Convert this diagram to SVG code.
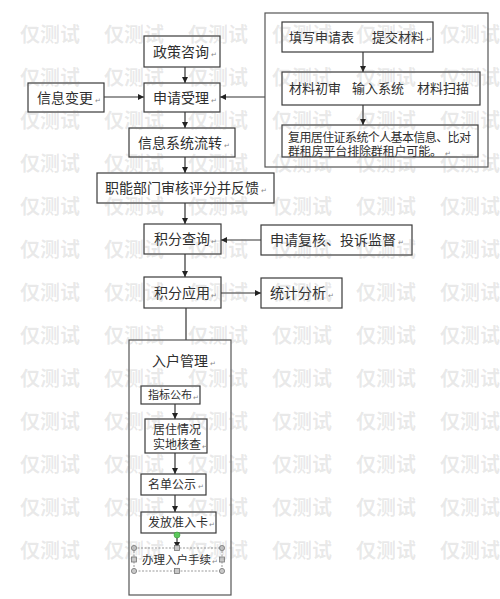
<svg xmlns="http://www.w3.org/2000/svg" width="500" height="599" viewBox="0 0 500 599">
<defs>
<style>
.box{fill:#fff;stroke:#3a3a3a;stroke-width:1.2}
.frame{fill:none;stroke:#555;stroke-width:1.2}
.t{font-family:"Noto Sans CJK SC","Noto Sans",sans-serif;fill:#2e2e2e}
.t14{font-size:14px}
.t13{font-size:13px}
.t12{font-size:12px}
.t11{font-size:11px}
.pm{font-family:"DejaVu Sans",sans-serif;font-size:7px;fill:#888}
.ln{fill:none;stroke:#333;stroke-width:1.2}
.wm{font-family:"Noto Sans CJK SC",sans-serif;font-size:20px;font-weight:bold;fill:#777;fill-opacity:0.16}
.hd{fill:#c8c8c8;stroke:#777;stroke-width:0.8}
</style>
<marker id="ah" viewBox="0 0 10 10" refX="10" refY="5" markerWidth="6" markerHeight="6" orient="auto" markerUnits="userSpaceOnUse">
<path d="M0,0 L10,5 L0,10 z" fill="#222"/>
</marker>
</defs>
<rect width="500" height="599" fill="#fff"/>

<g id="connectors">
<line class="ln" x1="185" y1="67" x2="185" y2="83" marker-end="url(#ah)"/>
<line class="ln" x1="104" y1="97" x2="144" y2="97" marker-end="url(#ah)"/>
<line class="ln" x1="265" y1="97" x2="220" y2="97" marker-end="url(#ah)"/>
<line class="ln" x1="185" y1="112" x2="185" y2="128" marker-end="url(#ah)"/>
<line class="ln" x1="185" y1="157" x2="185" y2="173" marker-end="url(#ah)"/>
<line class="ln" x1="185" y1="203" x2="185" y2="224" marker-end="url(#ah)"/>
<line class="ln" x1="261" y1="240" x2="221" y2="240" marker-end="url(#ah)"/>
<line class="ln" x1="185" y1="254" x2="185" y2="277" marker-end="url(#ah)"/>
<line class="ln" x1="221" y1="293" x2="261" y2="293" marker-end="url(#ah)"/>
<line class="ln" x1="186" y1="308" x2="186" y2="340"/>
<line class="ln" x1="363" y1="52" x2="363" y2="72" marker-end="url(#ah)"/>
<line class="ln" x1="363" y1="105" x2="363" y2="125" marker-end="url(#ah)"/>
<line class="ln" x1="175" y1="404" x2="175" y2="419" marker-end="url(#ah)"/>
<line class="ln" x1="175" y1="453" x2="175" y2="474" marker-end="url(#ah)"/>
<line class="ln" x1="175" y1="495" x2="175" y2="512" marker-end="url(#ah)"/>
<line class="ln" x1="177" y1="535" x2="177" y2="548" marker-end="url(#ah)"/>
</g>

<g id="n-zhengce">
<rect class="box" x="144" y="36" width="76" height="31"/>
<text class="t t14" x="153" y="56.5">政策咨询</text><text class="pm" x="211" y="57">↵</text>
</g>
<g id="n-xinxibiangeng">
<rect class="box" x="28" y="83" width="76" height="29"/>
<text class="t t14" x="37" y="102.5">信息变更</text><text class="pm" x="95" y="103">↵</text>
</g>
<g id="n-shenqing">
<rect class="box" x="144" y="83" width="76" height="29"/>
<text class="t t14" x="153" y="102.5">申请受理</text><text class="pm" x="211" y="103">↵</text>
</g>
<g id="n-xitong">
<rect class="box" x="129" y="128" width="106" height="29"/>
<text class="t t14" x="138" y="147.5">信息系统流转</text><text class="pm" x="224" y="148">↵</text>
</g>
<g id="n-zhineng">
<rect class="box" x="97" y="173" width="177" height="30"/>
<text class="t t14" x="105" y="193">职能部门审核评分并反馈</text><text class="pm" x="261" y="193">↵</text>
</g>
<g id="n-chaxun">
<rect class="box" x="144" y="224" width="77" height="30"/>
<text class="t t14" x="154" y="244">积分查询</text><text class="pm" x="211" y="244">↵</text>
</g>
<g id="n-fuhe">
<rect class="box" x="261" y="225" width="151" height="30"/>
<text class="t t14" x="270" y="245">申请复核、投诉监督</text><text class="pm" x="398" y="245">↵</text>
</g>
<g id="n-yingyong">
<rect class="box" x="144" y="277" width="77" height="31"/>
<text class="t t14" x="154" y="297.5">积分应用</text><text class="pm" x="211" y="298">↵</text>
</g>
<g id="n-tongji">
<rect class="box" x="261" y="278" width="81" height="30"/>
<text class="t t14" x="270" y="298">统计分析</text><text class="pm" x="328" y="298">↵</text>
</g>

<g id="n-right-group">
<rect class="frame" x="265" y="13" width="223" height="154"/>
<g id="n-tianxie">
<rect class="box" x="282" y="22" width="151" height="30"/>
<text class="t t13" x="289" y="41.5">填写申请表</text><text class="t t13" x="372" y="41.5">提交材料</text><text class="pm" x="426" y="42">↵</text>
</g>
<g id="n-chushen">
<rect class="box" x="282" y="72" width="198" height="33"/>
<text class="t t13" x="289" y="93">材料初审</text><text class="t t13" x="352" y="93">输入系统</text><text class="t t13" x="417" y="93">材料扫描</text>
</g>
<g id="n-fuyong">
<rect class="box" x="282" y="125" width="196" height="32"/>
<text class="t t12" x="288" y="141.5" textLength="183" lengthAdjust="spacing">复用居住证系统个人基本信息、比对</text>
<text class="t t12" x="288" y="156" textLength="154" lengthAdjust="spacing">群租房平台排除群租户可能。</text><text class="pm" x="445" y="156">↵</text>
</g>
</g>

<g id="n-ruhu">
<rect class="frame" x="129" y="340" width="102" height="255"/>
<text class="t t14" x="152" y="366">入户管理</text><text class="pm" x="210" y="366">↵</text>
</g>
<g id="n-zhibiao">
<rect class="box" x="141" y="386" width="59" height="18"/>
<text class="t t11" x="148" y="399">指标公布</text><text class="pm" x="193" y="400">↵</text>
</g>
<g id="n-juzhu">
<rect class="box" x="145" y="419" width="62" height="34"/>
<text class="t t12" x="153" y="434">居住情况</text>
<text class="t t12" x="153" y="449">实地核查</text><text class="pm" x="202" y="449">↵</text>
</g>
<g id="n-mingdan">
<rect class="box" x="141" y="474" width="65" height="21"/>
<text class="t t12" x="148" y="489">名单公示</text><text class="pm" x="198" y="489">↵</text>
</g>
<g id="n-fafang">
<rect class="box" x="141" y="512" width="75" height="21"/>
<text class="t t12" x="148" y="527">发放准入卡</text><text class="pm" x="209" y="527">↵</text>
</g>
<g id="n-banli">
<rect x="134" y="548" width="88" height="23" fill="#fff" stroke="#999" stroke-width="1" stroke-dasharray="2,1.5"/>
<text class="t" style="font-size:11.5px" x="142" y="564">办理入户手续</text><text class="pm" x="212" y="564">↵</text>
<circle cx="177" cy="535" r="3" fill="#5cc85c" stroke="#3a9a3a" stroke-width="0.6"/>
<circle class="hd" cx="134" cy="548" r="2.6"/>
<circle class="hd" cx="222" cy="548" r="2.6"/>
<circle class="hd" cx="134" cy="571" r="2.6"/>
<circle class="hd" cx="222" cy="571" r="2.6"/>
<rect class="hd" x="174.5" y="545.5" width="5" height="5"/>
<rect class="hd" x="174.5" y="568.5" width="5" height="5"/>
<rect class="hd" x="131.5" y="557" width="5" height="5"/>
<rect class="hd" x="219.5" y="557" width="5" height="5"/>
</g>

<g id="watermark">
<text class="wm" x="20" y="42">仅测试</text><text class="wm" x="104" y="42">仅测试</text><text class="wm" x="188" y="42">仅测试</text><text class="wm" x="272" y="42">仅测试</text><text class="wm" x="356" y="42">仅测试</text><text class="wm" x="440" y="42">仅测试</text>
<text class="wm" x="20" y="85">仅测试</text><text class="wm" x="104" y="85">仅测试</text><text class="wm" x="188" y="85">仅测试</text><text class="wm" x="272" y="85">仅测试</text><text class="wm" x="356" y="85">仅测试</text><text class="wm" x="440" y="85">仅测试</text>
<text class="wm" x="20" y="128">仅测试</text><text class="wm" x="104" y="128">仅测试</text><text class="wm" x="188" y="128">仅测试</text><text class="wm" x="272" y="128">仅测试</text><text class="wm" x="356" y="128">仅测试</text><text class="wm" x="440" y="128">仅测试</text>
<text class="wm" x="20" y="171">仅测试</text><text class="wm" x="104" y="171">仅测试</text><text class="wm" x="188" y="171">仅测试</text><text class="wm" x="272" y="171">仅测试</text><text class="wm" x="356" y="171">仅测试</text><text class="wm" x="440" y="171">仅测试</text>
<text class="wm" x="20" y="214">仅测试</text><text class="wm" x="104" y="214">仅测试</text><text class="wm" x="188" y="214">仅测试</text><text class="wm" x="272" y="214">仅测试</text><text class="wm" x="356" y="214">仅测试</text><text class="wm" x="440" y="214">仅测试</text>
<text class="wm" x="20" y="257">仅测试</text><text class="wm" x="104" y="257">仅测试</text><text class="wm" x="188" y="257">仅测试</text><text class="wm" x="272" y="257">仅测试</text><text class="wm" x="356" y="257">仅测试</text><text class="wm" x="440" y="257">仅测试</text>
<text class="wm" x="20" y="300">仅测试</text><text class="wm" x="104" y="300">仅测试</text><text class="wm" x="188" y="300">仅测试</text><text class="wm" x="272" y="300">仅测试</text><text class="wm" x="356" y="300">仅测试</text><text class="wm" x="440" y="300">仅测试</text>
<text class="wm" x="20" y="343">仅测试</text><text class="wm" x="104" y="343">仅测试</text><text class="wm" x="188" y="343">仅测试</text><text class="wm" x="272" y="343">仅测试</text><text class="wm" x="356" y="343">仅测试</text><text class="wm" x="440" y="343">仅测试</text>
<text class="wm" x="20" y="386">仅测试</text><text class="wm" x="104" y="386">仅测试</text><text class="wm" x="188" y="386">仅测试</text><text class="wm" x="272" y="386">仅测试</text><text class="wm" x="356" y="386">仅测试</text><text class="wm" x="440" y="386">仅测试</text>
<text class="wm" x="20" y="429">仅测试</text><text class="wm" x="104" y="429">仅测试</text><text class="wm" x="188" y="429">仅测试</text><text class="wm" x="272" y="429">仅测试</text><text class="wm" x="356" y="429">仅测试</text><text class="wm" x="440" y="429">仅测试</text>
<text class="wm" x="20" y="472">仅测试</text><text class="wm" x="104" y="472">仅测试</text><text class="wm" x="188" y="472">仅测试</text><text class="wm" x="272" y="472">仅测试</text><text class="wm" x="356" y="472">仅测试</text><text class="wm" x="440" y="472">仅测试</text>
<text class="wm" x="20" y="515">仅测试</text><text class="wm" x="104" y="515">仅测试</text><text class="wm" x="188" y="515">仅测试</text><text class="wm" x="272" y="515">仅测试</text><text class="wm" x="356" y="515">仅测试</text><text class="wm" x="440" y="515">仅测试</text>
<text class="wm" x="20" y="558">仅测试</text><text class="wm" x="104" y="558">仅测试</text><text class="wm" x="188" y="558">仅测试</text><text class="wm" x="272" y="558">仅测试</text><text class="wm" x="356" y="558">仅测试</text><text class="wm" x="440" y="558">仅测试</text>
</g>
</svg>
